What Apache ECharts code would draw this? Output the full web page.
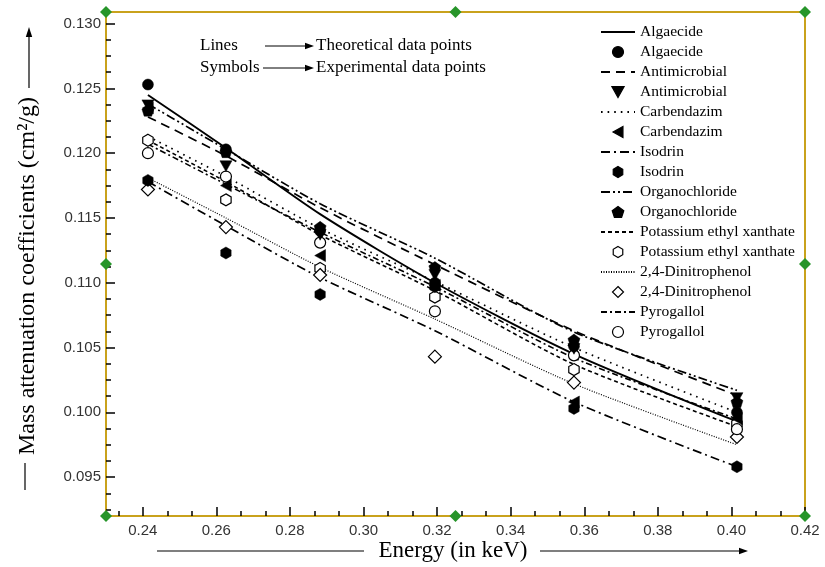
<!DOCTYPE html>
<html>
<head>
<meta charset="utf-8">
<script src="https://cdn.jsdelivr.net/npm/echarts@6/dist/echarts.min.js"></script>
<style>
  html, body { margin: 0; padding: 0; background: #fff; }
  #chart { width: 825px; height: 567px; }
</style>
</head>
<body>
<div id="chart"></div>
<script>
// Photon energies (keV)
const energies = [0.2414, 0.2626, 0.2882, 0.3194, 0.3572, 0.4015];

// Theoretical mass attenuation coefficients (cm^2/g)
const algaecideTheory      = [0.1245, 0.1204, 0.1153, 0.1100, 0.1045, 0.0993];
const antimicrobialTheory  = [0.1228, 0.1198, 0.1158, 0.1114, 0.1063, 0.1013];
const carbendazimTheory    = [0.1213, 0.1182, 0.1142, 0.1101, 0.1050, 0.1000];
const isodrinTheory        = [0.1178, 0.1144, 0.1104, 0.1063, 0.1008, 0.0958];
const organochlorideTheory = [0.1238, 0.1203, 0.1161, 0.1119, 0.1062, 0.1017];
const xanthateTheory       = [0.1210, 0.1178, 0.1137, 0.1094, 0.1037, 0.0989];
const dinitrophenolTheory  = [0.1181, 0.1150, 0.1112, 0.1072, 0.1022, 0.0975];
const pyrogallolTheory     = [0.1207, 0.1176, 0.1139, 0.1097, 0.1042, 0.0995];

// Experimental mass attenuation coefficients (cm^2/g)
const algaecideExp      = [0.1253, 0.1203, 0.1140, 0.1100, 0.1051, 0.1000];
const antimicrobialExp  = [0.1237, 0.1190, 0.1137, 0.1106, 0.1049, 0.1011];
const carbendazimExp    = [0.1235, 0.1175, 0.1121, 0.1098, 0.1008, 0.0995];
const isodrinExp        = [0.1179, 0.1123, 0.1091, 0.1097, 0.1003, 0.0958];
const organochlorideExp = [0.1233, 0.1201, 0.1143, 0.1112, 0.1056, 0.1008];
const xanthateExp       = [0.1210, 0.1164, 0.1111, 0.1089, 0.1033, 0.0991];
const dinitrophenolExp  = [0.1172, 0.1143, 0.1106, 0.1043, 0.1023, 0.0981];
const pyrogallolExp     = [0.1200, 0.1182, 0.1131, 0.1078, 0.1044, 0.0987];

const compoundNames = ['Algaecide', 'Antimicrobial', 'Carbendazim', 'Isodrin',
  'Organochloride', 'Potassium ethyl xanthate', '2,4-Dinitrophenol', 'Pyrogallol'];

// Axis tick labels
const xTickLabels = [0.24, 0.26, 0.28, 0.30, 0.32, 0.34, 0.36, 0.38, 0.40, 0.42];
const yTickLabels = [0.095, 0.100, 0.105, 0.110, 0.115, 0.120, 0.125, 0.130];

const X_MIN = 0.23, X_MAX = 0.42, Y_MIN = 0.092, Y_MAX = 0.1309;

// minor ticks: x splits each 0.02 step in three, y splits each 0.005 step in four
function minorTicks(majors, step, parts, lo, hi) {
  const out = [];
  const first = majors[0] - step;
  for (let m = first; m <= hi + 1e-9; m += step) {
    for (let k = 1; k < parts; k++) {
      const v = +(m + k * step / parts).toFixed(6);
      if (v > lo + 1e-6 && v < hi - 1e-6) out.push(v);
    }
  }
  return out;
}
const xMinor = minorTicks(xTickLabels, 0.02, 3, X_MIN, X_MAX);
const yMinor = minorTicks(yTickLabels, 0.005, 4, Y_MIN, Y_MAX);

const theory = [algaecideTheory, antimicrobialTheory, carbendazimTheory, isodrinTheory,
  organochlorideTheory, xanthateTheory, dinitrophenolTheory, pyrogallolTheory];
const experiment = [algaecideExp, antimicrobialExp, carbendazimExp, isodrinExp,
  organochlorideExp, xanthateExp, dinitrophenolExp, pyrogallolExp];

const lineStyles = [
  { type: 'solid', width: 1.9 },
  { type: [9, 6], width: 1.7 },
  { type: [1.6, 5], width: 1.7 },
  { type: [9, 4, 2, 4], width: 1.7 },
  { type: [9, 3, 2, 3, 2, 3], width: 1.7 },
  { type: [4, 3], width: 1.6 },
  { type: [1, 1.5], width: 1.2 },
  { type: [6, 3, 2, 3], width: 1.6 }
];

const SYM = {
  circle: 'circle',
  down: 'path://M0,0 L10,0 L5,9 Z',
  left: 'path://M9,0 L9,10 L0,5 Z',
  hexagon: 'path://M5,0 L9.33,2.5 L9.33,7.5 L5,10 L0.67,7.5 L0.67,2.5 Z',
  pentagon: 'path://M5,0 L10,3.6 L8.1,9.5 L1.9,9.5 L0,3.6 Z',
  diamond: 'path://M5,0 L10,5 L5,10 L0,5 Z'
};
const symbols = [
  { s: SYM.circle, size: 11, open: false },
  { s: SYM.down, size: 12, open: false },
  { s: SYM.left, size: 12, open: false },
  { s: SYM.hexagon, size: 12, open: false },
  { s: SYM.pentagon, size: 12, open: false },
  { s: SYM.hexagon, size: 12, open: true },
  { s: SYM.diamond, size: 13, open: true },
  { s: SYM.circle, size: 11, open: true }
];

const HIDDEN = { color: 'rgba(0,0,0,0)', borderColor: 'rgba(0,0,0,0)', borderWidth: 0 };

const series = [];
const legendItems = [];
compoundNames.forEach((name, i) => {
  const lineName = name + ' (theoretical)';
  const dotName = name + ' (experimental)';
  legendItems.push({ name: lineName, itemStyle: HIDDEN }, { name: dotName });
  series.push({
    name: lineName,
    type: 'line',
    xAxisIndex: 0, yAxisIndex: 0,
    data: energies.map((e, j) => [e, theory[i][j]]),
    symbol: 'none',
    smooth: 0.25,
    lineStyle: Object.assign({ color: '#000' }, lineStyles[i]),
    itemStyle: HIDDEN,
    z: 2,
    silent: true
  });
  const sym = symbols[i];
  series.push({
    name: dotName,
    type: 'scatter',
    xAxisIndex: 0, yAxisIndex: 0,
    data: energies.map((e, j) => [e, experiment[i][j]]),
    symbol: sym.s,
    symbolSize: sym.size,
    symbolKeepAspect: true,
    itemStyle: sym.open
      ? { color: '#fff', borderColor: '#000', borderWidth: 1.2, opacity: 1 }
      : { color: '#000', borderColor: '#000', borderWidth: 0.5, opacity: 1 },
    z: 3 + (sym.open ? 0 : 1),
    silent: true
  });
});

const GRID = { left: 106, top: 12, right: 20, bottom: 51 };
const W = 825, H = 567;
const gx0 = GRID.left, gx1 = W - GRID.right, gy0 = GRID.top, gy1 = H - GRID.bottom;
const gxm = (gx0 + gx1) / 2, gym = (gy0 + gy1) / 2;
const FRAME = '#c9a21c';
const SERIF = '"Liberation Serif", "Times New Roman", serif';

function handle(cx, cy) {
  return {
    type: 'polygon',
    shape: { points: [[cx, cy - 6], [cx + 6, cy], [cx, cy + 6], [cx - 6, cy]] },
    style: { fill: '#27952a' },
    z: 20, silent: true
  };
}
function arrowHeadRight(x, y) {
  return { type: 'polygon', shape: { points: [[x, y], [x - 9, y - 3.2], [x - 9, y + 3.2]] }, style: { fill: '#000' }, silent: true };
}

const graphics = [
  // note in upper left
  { type: 'text', x: 200, y: 46, style: { text: 'Lines', font: '17px ' + SERIF, fill: '#000', verticalAlign: 'middle' } },
  { type: 'line', shape: { x1: 265, y1: 46, x2: 306, y2: 46 }, style: { stroke: '#000', lineWidth: 1 } },
  arrowHeadRight(314, 46),
  { type: 'text', x: 316, y: 46, style: { text: 'Theoretical data points', font: '17px ' + SERIF, fill: '#000', verticalAlign: 'middle' } },
  { type: 'text', x: 200, y: 68, style: { text: 'Symbols', font: '17px ' + SERIF, fill: '#000', verticalAlign: 'middle' } },
  { type: 'line', shape: { x1: 263, y1: 68, x2: 306, y2: 68 }, style: { stroke: '#000', lineWidth: 1 } },
  arrowHeadRight(314, 68),
  { type: 'text', x: 316, y: 68, style: { text: 'Experimental data points', font: '17px ' + SERIF, fill: '#000', verticalAlign: 'middle' } },

  // y axis title with arrow
  { type: 'text', x: 28, y: 276, rotation: Math.PI / 2,
    style: { text: 'Mass attenuation coefficients (cm\u00B2/g)', font: '24px ' + SERIF, fill: '#000', align: 'center', verticalAlign: 'middle' } },
  { type: 'line', shape: { x1: 29, y1: 88, x2: 29, y2: 36 }, style: { stroke: '#000', lineWidth: 1.2 } },
  { type: 'polygon', shape: { points: [[29, 27], [25.8, 37], [32.2, 37]] }, style: { fill: '#000' } },
  { type: 'line', shape: { x1: 25, y1: 463, x2: 25, y2: 490 }, style: { stroke: '#000', lineWidth: 1.2 } },

  // x axis title with arrow
  { type: 'text', x: 453, y: 551, style: { text: 'Energy (in keV)', font: '23px ' + SERIF, fill: '#000', align: 'center', verticalAlign: 'middle' } },
  { type: 'line', shape: { x1: 157, y1: 551, x2: 364, y2: 551 }, style: { stroke: '#000', lineWidth: 1.2 } },
  { type: 'line', shape: { x1: 540, y1: 551, x2: 740, y2: 551 }, style: { stroke: '#000', lineWidth: 1.2 } },
  arrowHeadRight(748, 551),

  // frame handles
  handle(gx0, gy0), handle(gxm, gy0), handle(gx1, gy0),
  handle(gx0, gym), handle(gx1, gym),
  handle(gx0, gy1), handle(gxm, gy1), handle(gx1, gy1)
];

const tickFont = { fontFamily: '"Liberation Sans", Arial, sans-serif', fontSize: 15, color: '#333' };

const option = {
  backgroundColor: '#fff',
  animation: false,
  grid: Object.assign({ show: true, borderColor: FRAME, borderWidth: 2, backgroundColor: 'transparent', containLabel: false }, GRID),
  xAxis: [
    {
      type: 'value', min: X_MIN, max: X_MAX, position: 'bottom',
      axisLine: { show: true, lineStyle: { color: FRAME, width: 2 } },
      axisTick: { show: true, inside: true, length: 9, customValues: xTickLabels, lineStyle: { color: '#000', width: 1.5 } },
      axisLabel: Object.assign({ customValues: xTickLabels, margin: 7, formatter: v => v.toFixed(2) }, tickFont),
      splitLine: { show: false }
    },
    {
      type: 'value', min: X_MIN, max: X_MAX, position: 'bottom',
      axisLine: { show: false },
      axisTick: { show: true, inside: true, length: 5, customValues: xMinor, lineStyle: { color: '#000', width: 1.5 } },
      axisLabel: { show: false },
      splitLine: { show: false }
    }
  ],
  yAxis: [
    {
      type: 'value', min: Y_MIN, max: Y_MAX, position: 'left',
      axisLine: { show: true, lineStyle: { color: FRAME, width: 2 } },
      axisTick: { show: true, inside: true, length: 9, customValues: yTickLabels, lineStyle: { color: '#000', width: 1.5 } },
      axisLabel: Object.assign({ customValues: yTickLabels, margin: 5, formatter: v => v.toFixed(3) }, tickFont),
      splitLine: { show: false }
    },
    {
      type: 'value', min: Y_MIN, max: Y_MAX, position: 'left',
      axisLine: { show: false },
      axisTick: { show: true, inside: true, length: 5, customValues: yMinor, lineStyle: { color: '#000', width: 1.5 } },
      axisLabel: { show: false },
      splitLine: { show: false }
    }
  ],
  legend: {
    data: legendItems,
    orient: 'vertical',
    left: 595, top: 19,
    itemWidth: 34, itemHeight: 11, itemGap: 4,
    selectedMode: false,
    symbolKeepAspect: true,
    itemStyle: { borderWidth: 1.2 },
    formatter: n => n.replace(/ \((theoretical|experimental)\)$/, ''),
    textStyle: { fontFamily: SERIF, fontSize: 15.5, color: '#000', lineHeight: 15, padding: [0, 0, 0, 0] }
  },
  series: series,
  graphic: { elements: graphics }
};

const chart = echarts.init(document.getElementById('chart'), null, { renderer: 'canvas' });
chart.setOption(option);
</script>
</body>
</html>
